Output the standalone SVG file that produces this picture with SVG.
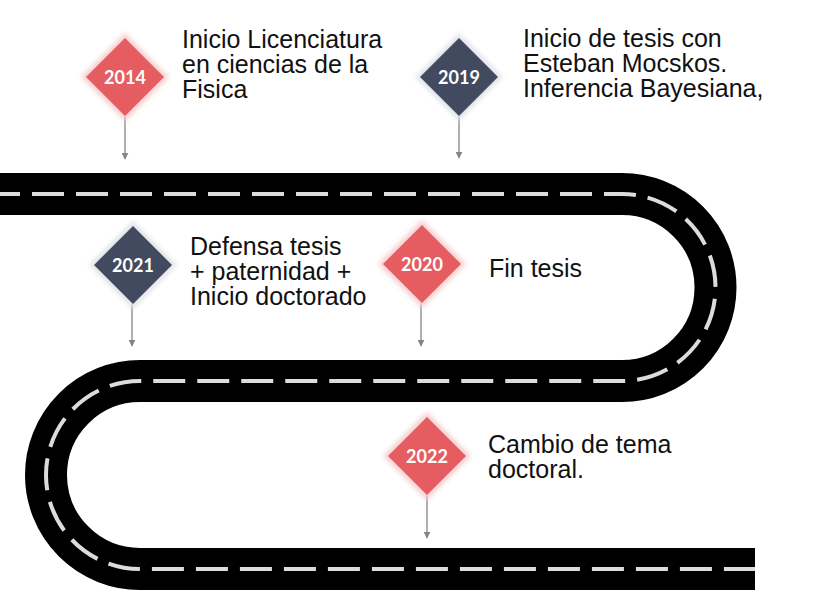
<svg xmlns="http://www.w3.org/2000/svg" width="815" height="614" viewBox="0 0 815 614">
  <style>
    .lbl { font-family: "Liberation Sans", Arial, sans-serif; font-size: 25px; fill: #111; }
    .yr { font-family: Lato, "Liberation Sans", sans-serif; font-weight: bold; font-size: 18px; fill: #fff; text-anchor: middle; }
    .red { fill: #e55c61; }
    .dark { fill: #414a5e; }
    .haloR { fill: #f7cfd0; filter: url(#blur); }
    .haloD { fill: #e2e4ea; filter: url(#blur); }
    .pin { stroke: #858585; stroke-width: 1.3; fill: none; marker-end: url(#arr); }
  </style>
  <defs>
    <filter id="blur" x="-30%" y="-30%" width="160%" height="160%">
      <feGaussianBlur stdDeviation="2.5"/>
    </filter>
    <marker id="arr" viewBox="0 0 10 10" refX="9" refY="5" markerWidth="7" markerHeight="7" markerUnits="userSpaceOnUse" orient="auto">
      <path d="M0,0 L10,5 L0,10 z" fill="#858585"/>
    </marker>
  </defs>
  <rect width="815" height="614" fill="#fff"/>

  <g id="road">
    <path d="M 0 194 H 622 A 93.5 93.5 0 0 1 622 381 H 140 A 94 94 0 0 0 140 569 H 755" fill="none" stroke="#000" stroke-width="42"/>
    <path d="M 0 194 H 622 A 93.5 93.5 0 0 1 622 381 H 140 A 94 94 0 0 0 140 569 H 755" fill="none" stroke="#dcdcdc" stroke-width="4" stroke-dasharray="32 12" stroke-dashoffset="12"/>
  </g>

  <g id="connectors">
    <line class="pin" x1="125" y1="116" x2="125" y2="159"/>
    <line class="pin" x1="459" y1="116" x2="459" y2="158"/>
    <line class="pin" x1="132" y1="304" x2="132" y2="346"/>
    <line class="pin" x1="421" y1="303" x2="421" y2="346"/>
    <line class="pin" x1="427" y1="495" x2="427" y2="538"/>
  </g>

  <g id="n2014">
    <polygon class="haloR" points="125,33 169,77 125,121 81,77"/>
    <polygon class="red" points="125,38 164,77 125,116 86,77"/>
    <text class="yr" x="125" y="83.5">2014</text>
    <text class="lbl" x="182" y="48">Inicio Licenciatura</text>
    <text class="lbl" x="182" y="73">en ciencias de la</text>
    <text class="lbl" x="182" y="98">Fisica</text>
  </g>

  <g id="n2019">
    <polygon class="haloD" points="459,33 503,77 459,121 415,77"/>
    <polygon class="dark" points="459,38 498,77 459,116 420,77"/>
    <text class="yr" x="459" y="83.5">2019</text>
    <text class="lbl" x="523" y="47">Inicio de tesis con</text>
    <text class="lbl" x="523" y="72">Esteban Mocskos.</text>
    <text class="lbl" x="523" y="97">Inferencia Bayesiana,</text>
  </g>

  <g id="n2021">
    <polygon class="haloD" points="133,221 177,265 133,309 89,265"/>
    <polygon class="dark" points="133,226 172,265 133,304 94,265"/>
    <text class="yr" x="133" y="271.5">2021</text>
    <text class="lbl" x="190" y="255">Defensa tesis</text>
    <text class="lbl" x="190" y="280">+ paternidad +</text>
    <text class="lbl" x="190" y="305">Inicio doctorado</text>
  </g>

  <g id="n2020">
    <polygon class="haloR" points="422,220 466,264 422,308 378,264"/>
    <polygon class="red" points="422,225 461,264 422,303 383,264"/>
    <text class="yr" x="422" y="270.5">2020</text>
    <text class="lbl" x="489" y="277">Fin tesis</text>
  </g>

  <g id="n2022">
    <polygon class="haloR" points="427,412 471,456 427,500 383,456"/>
    <polygon class="red" points="427,417 466,456 427,495 388,456"/>
    <text class="yr" x="427" y="462.5">2022</text>
    <text class="lbl" x="488" y="453">Cambio de tema</text>
    <text class="lbl" x="488" y="478">doctoral.</text>
  </g>
</svg>
